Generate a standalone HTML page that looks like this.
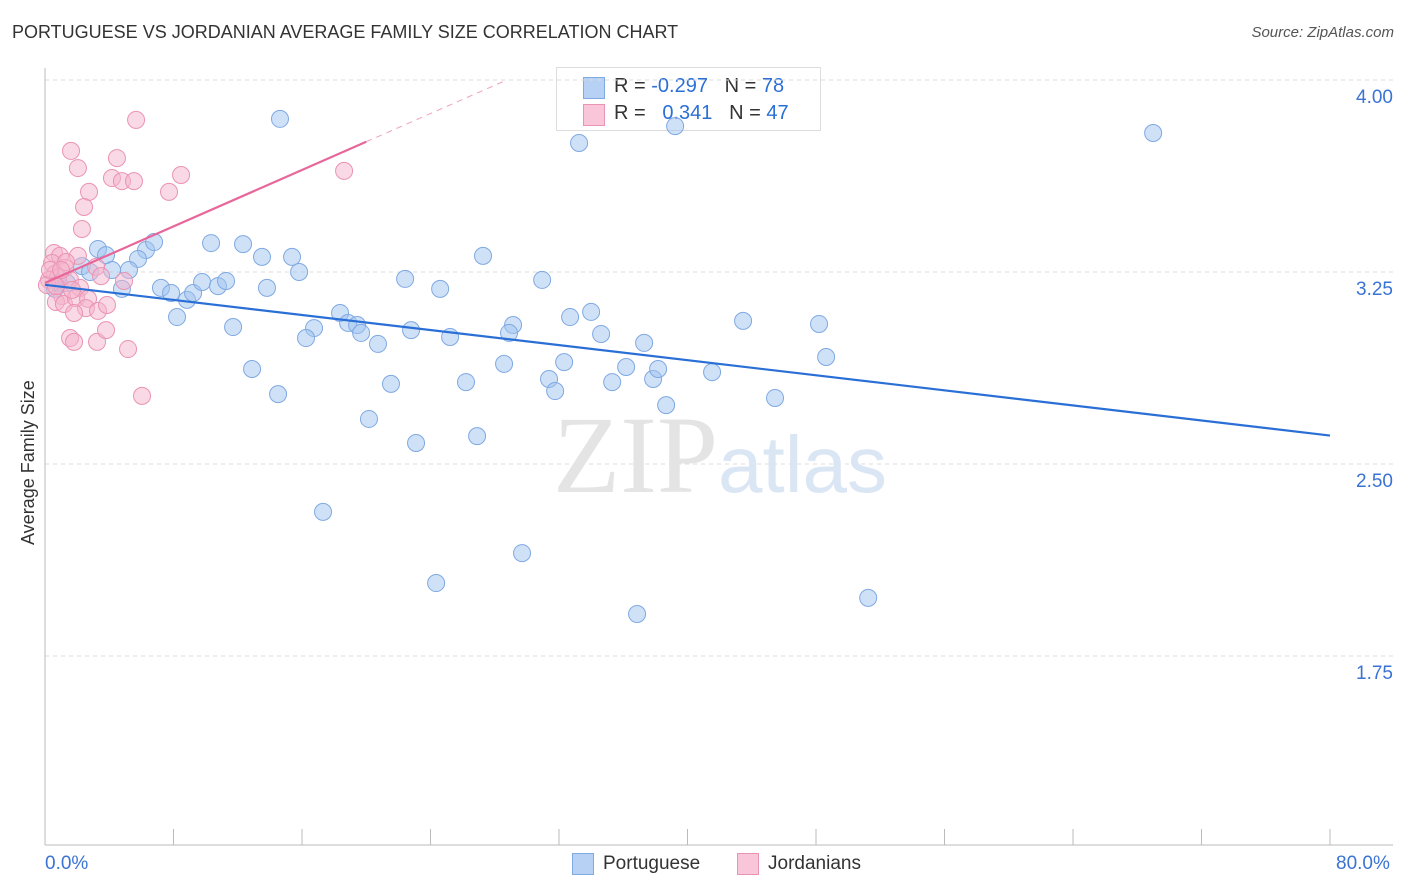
<!DOCTYPE html>
<html><head><meta charset="utf-8"><style>
body{margin:0;background:#fff;font-family:"Liberation Sans",sans-serif;}
#wrap{position:relative;width:1406px;height:892px;overflow:hidden;}
.t{position:absolute;white-space:nowrap;}
</style></head><body>
<div id="wrap">
<div class="t" style="left:12px;top:22px;font-size:18px;color:#333;">PORTUGUESE VS JORDANIAN AVERAGE FAMILY SIZE CORRELATION CHART</div>
<div class="t" style="right:12px;top:24px;font-size:15px;color:#555;font-style:italic;">Source: ZipAtlas.com</div>
<div class="t" style="left:556px;top:67px;width:263px;height:62px;border:1px solid #ddd;background:#fff;">
 <div class="t" style="left:26px;top:9px;width:20px;height:20px;background:#b7d1f5;border:1px solid #7fa9e2;"></div>
 <div class="t" style="left:57px;top:7px;font-size:20px;color:#333;">R = <span style="color:#2a6fd6">-0.297</span>&nbsp;&nbsp;&nbsp;N = <span style="color:#2a6fd6">78</span></div>
 <div class="t" style="left:26px;top:36px;width:20px;height:20px;background:#f8c6d8;border:1px solid #ea93b2;"></div>
 <div class="t" style="left:57px;top:34px;font-size:20px;color:#333;">R = &nbsp;&nbsp;<span style="color:#2a6fd6">0.341</span>&nbsp;&nbsp;&nbsp;N = <span style="color:#2a6fd6">47</span></div>
</div>
<svg id="svg" width="1406" height="892" style="position:absolute;left:0;top:0"></svg>
</div>
<script>
const bx=[14.63,33.25,39.23,68.99,3.30,3.80,6.29,6.79,10.34,12.33,13.51,15.38,15.82,27.27,5.79,5.23,4.17,2.30,2.80,0.87,0.62,1.37,4.79,7.22,7.85,8.84,9.22,9.78,10.77,11.27,13.82,22.42,24.60,30.95,8.22,11.71,16.75,16.25,18.37,18.87,19.43,19.68,20.73,22.79,25.22,29.14,28.89,32.69,34.00,34.62,37.30,43.46,48.19,48.63,12.89,21.54,26.21,28.58,31.38,32.32,31.76,35.31,36.18,37.86,38.17,41.53,14.51,20.17,23.10,26.90,38.67,45.45,17.31,29.70,24.35,36.86,51.25];
const by=[3.848,3.754,3.820,3.793,3.340,3.316,3.336,3.367,3.363,3.359,3.309,3.309,3.250,3.313,3.301,3.258,3.258,3.273,3.250,3.207,3.184,3.207,3.184,3.188,3.168,3.141,3.168,3.211,3.195,3.215,3.188,3.223,3.184,3.219,3.074,3.035,3.031,2.992,3.090,3.051,3.043,3.012,2.969,3.023,2.996,3.043,3.012,3.074,3.094,3.008,2.973,3.059,3.047,2.918,2.871,2.813,2.820,2.891,2.832,2.898,2.785,2.820,2.879,2.832,2.871,2.859,2.773,2.676,2.582,2.609,2.730,2.758,2.313,2.152,2.035,1.914,1.977];
const px=[5.67,1.62,2.05,4.48,4.17,4.79,5.54,8.47,7.72,2.74,2.43,2.30,18.62,0.56,0.93,2.05,0.44,1.25,0.62,0.25,0.81,0.12,3.18,3.49,1.56,2.18,1.06,0.68,1.18,1.93,2.68,2.55,1.81,3.30,3.86,1.56,1.81,3.24,3.80,5.17,6.04,0.31,1.31,1.68,4.92,0.68,1.00];
const py=[3.844,3.723,3.656,3.695,3.617,3.605,3.605,3.629,3.563,3.563,3.504,3.418,3.645,3.324,3.313,3.313,3.285,3.266,3.242,3.219,3.230,3.199,3.270,3.234,3.219,3.188,3.156,3.133,3.125,3.148,3.145,3.109,3.090,3.098,3.121,2.992,2.977,2.977,3.023,2.949,2.766,3.258,3.289,3.180,3.215,3.195,3.258];
const yTicks=[4.00,3.25,2.50,1.75];
const yTickLabels=["4.00","3.25","2.50","1.75"];
const xTicks=[0,8,16,24,32,40,48,56,64,72,80];
const X=v=>45+v*1285/80;
const Y=v=>80+(4-v)*256;
const s=document.getElementById('svg');
const NS='http://www.w3.org/2000/svg';
function mk(tag,attrs){const e=document.createElementNS(NS,tag);for(const k in attrs)e.setAttribute(k,attrs[k]);s.appendChild(e);return e;}
yTicks.forEach((v,i)=>{
 const g=mk('line',{x1:45,x2:1393,y1:Y(v),y2:Y(v),stroke:'#ddd','stroke-dasharray':'4,4'});
 
 
 const t=mk('text',{x:1393,y:Y(v)+23,'text-anchor':'end','font-size':19,fill:'#3b73d4','font-family':'Liberation Sans'});
 t.textContent=yTickLabels[i];
 
 
});
const ax=mk('line',{x1:45,x2:45,y1:68,y2:845,stroke:'#bbb'});


const xa=mk('line',{x1:45,x2:1393,y1:845,y2:845,stroke:'#bbb'});


xTicks.forEach(v=>{const l=mk('line',{x1:X(v),x2:X(v),y1:829,y2:845,stroke:'#bbb'});
 
 });
const w=mk('text',{x:553,y:492,'font-size':110,fill:'#e4e4e4','font-family':'Liberation Serif'});w.textContent='ZIP';


const w2=mk('text',{x:718,y:492,'font-size':80,fill:'#dbe6f5','font-family':'Liberation Sans'});w2.textContent='atlas';


function reg(xs,ys){const n=xs.length;let mx=0,my=0;for(let i=0;i<n;i++){mx+=xs[i];my+=ys[i];}mx/=n;my/=n;let a=0,b=0;for(let i=0;i<n;i++){a+=(xs[i]-mx)*(ys[i]-my);b+=(xs[i]-mx)**2;}const m=a/b;return[m,my-m*mx];}
bx.forEach((v,i)=>{const c=mk('circle',{cx:X(v),cy:Y(by[i]),r:8.5,fill:'rgba(160,195,240,0.5)',stroke:'#7fa9e2','stroke-width':1});
 
 });
px.forEach((v,i)=>{const c=mk('circle',{cx:X(v),cy:Y(py[i]),r:8.5,fill:'rgba(244,180,203,0.5)',stroke:'#ea93b2','stroke-width':1});
 
 });
const [bm,bb]=reg(bx,by);
const bl=mk('line',{x1:X(0),y1:Y(bb),x2:X(80),y2:Y(bb+bm*80),stroke:'#2a6fd6','stroke-width':2.2});


const [pm,pb]=reg(px,py);
const pmax=20;
const pl=mk('line',{x1:X(0),y1:Y(pb),x2:X(pmax),y2:Y(pb+pm*pmax),stroke:'#e8679a','stroke-width':2.2});


const xEnd=(4-pb)/pm;
const pd=mk('line',{x1:X(pmax),y1:Y(pb+pm*pmax),x2:X(xEnd),y2:Y(4),stroke:'#f0a0bd','stroke-width':1,'stroke-dasharray':'6,5'});


</script>
<div class="t" style="left:18px;top:545px;font-size:18px;color:#333;transform:rotate(-90deg);transform-origin:0 0;">Average Family Size</div>
<div class="t" style="left:45px;top:853px;font-size:19px;color:#3b73d4;">0.0%</div>
<div class="t" style="left:1336px;top:853px;font-size:19px;color:#3b73d4;">80.0%</div>
<div class="t" style="left:572px;top:853px;width:20px;height:20px;background:#b7d1f5;border:1px solid #7fa9e2;"></div>
<div class="t" style="left:603px;top:853px;font-size:19px;color:#333;">Portuguese</div>
<div class="t" style="left:737px;top:853px;width:20px;height:20px;background:#f8c6d8;border:1px solid #ea93b2;"></div>
<div class="t" style="left:768px;top:853px;font-size:19px;color:#333;">Jordanians</div>
</body></html>
